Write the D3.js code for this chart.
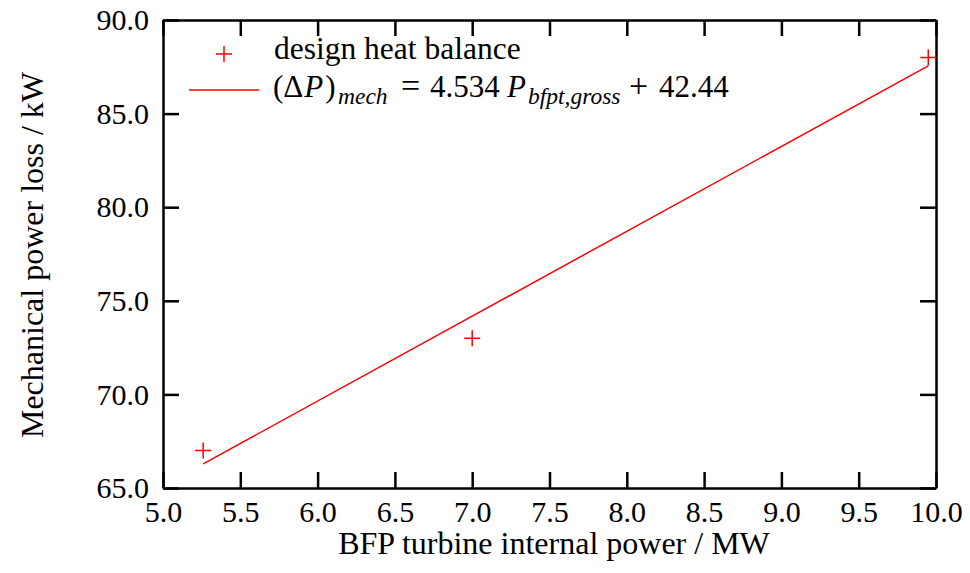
<!DOCTYPE html>
<html>
<head>
<meta charset="utf-8">
<script src="https://cdn.jsdelivr.net/npm/d3@7"></script>
<style>
  body { margin: 0; background: #fff; }
  .axis path, .axis line { fill: none; stroke: #000; stroke-width: 2.5; }
</style>
</head>
<body>
<svg id="chart"></svg>
<script>
// design heat balance points
const turbinePower = [5.26, 7.0, 9.95];
const mechLoss = [67.0, 73.0, 88.0];
// linear fit
const fitSlope = 4.534;
const fitIntercept = 42.44;
const xTicks = [5.0, 5.5, 6.0, 6.5, 7.0, 7.5, 8.0, 8.5, 9.0, 9.5, 10.0];
const yTicks = [65.0, 70.0, 75.0, 80.0, 85.0, 90.0];

const W = 970, H = 573;
const margin = {top: 20, right: 34, bottom: 85, left: 163};
const width = W - margin.left - margin.right,
      height = H - margin.top - margin.bottom;
const serif = 'Liberation Serif';

const svg = d3.select('#chart').attr('width', W).attr('height', H);
const g = svg.append('g').attr('transform', `translate(${margin.left},${margin.top})`);

const x = d3.scaleLinear().domain([5, 10]).range([0, width]);
const y = d3.scaleLinear().domain([65, 90]).range([height, 0]);

const tickLen = 16;
const fmt = d3.format('.1f');

function styleAxis(sel) {
  sel.attr('font-family', null).attr('font-size', null);
  sel.selectAll('text')
    .style('font-family', serif).style('font-size', '30px').style('fill', '#000');
}

// bottom
g.append('g').attr('class', 'axis').attr('transform', `translate(0,${height})`)
  .call(d3.axisBottom(x).tickValues(xTicks).tickFormat(fmt).tickSizeInner(-tickLen).tickSizeOuter(0).tickPadding(13))
  .call(styleAxis);
// top
g.append('g').attr('class', 'axis')
  .call(d3.axisTop(x).tickValues(xTicks).tickFormat('').tickSizeInner(-tickLen).tickSizeOuter(0));
// left
g.append('g').attr('class', 'axis')
  .call(d3.axisLeft(y).tickValues(yTicks).tickFormat(fmt).tickSizeInner(-tickLen).tickSizeOuter(0).tickPadding(14))
  .call(styleAxis);
// right
g.append('g').attr('class', 'axis').attr('transform', `translate(${width},0)`)
  .call(d3.axisRight(y).tickValues(yTicks).tickFormat('').tickSizeInner(-tickLen).tickSizeOuter(0));

// fit line
const xExt = d3.extent(turbinePower);
g.append('line')
  .attr('x1', x(xExt[0])).attr('y1', y(fitSlope * xExt[0] + fitIntercept))
  .attr('x2', x(xExt[1])).attr('y2', y(fitSlope * xExt[1] + fitIntercept))
  .attr('stroke', 'red').attr('stroke-width', 1.5);

// markers
const cross = 8;
const pts = g.selectAll('.pt').data(turbinePower.map((d, i) => [d, mechLoss[i]]))
  .enter().append('g').attr('class', 'pt')
  .attr('transform', d => `translate(${x(d[0])},${y(d[1])})`);
pts.append('path').attr('d', `M${-cross},0H${cross}M0,${-cross}V${cross}`)
  .attr('stroke', 'red').attr('stroke-width', 1.5).attr('fill', 'none');

// legend
svg.append('path').attr('d', `M${224 - cross},54H${224 + cross}M224,${54 - cross}V${54 + cross}`)
  .attr('stroke', 'red').attr('stroke-width', 1.5);
svg.append('text').attr('x', 274).attr('y', 59)
  .style('font-family', serif).style('font-size', '31.5px').text('design heat balance');
svg.append('line').attr('x1', 189).attr('x2', 259).attr('y1', 90).attr('y2', 90)
  .attr('stroke', 'red').attr('stroke-width', 1.5);

// equation: math-style spacing
const eq = svg.append('text').attr('y', 97)
  .style('font-family', serif).style('font-size', '31px');
eq.append('tspan').attr('x', 273).text('(Δ');
eq.append('tspan').style('font-style', 'italic').attr('dx', 1).text('P');
eq.append('tspan').attr('dx', 2).text(')');
eq.append('tspan').attr('x', 338).attr('y', 104).style('font-style', 'italic').style('font-size', '23.5px').text('mech');
eq.append('tspan').attr('x', 401).attr('y', 97).style('font-size', '34px').text('=');
eq.append('tspan').attr('x', 430).text('4.534');
eq.append('tspan').attr('x', 507).style('font-style', 'italic').text('P');
eq.append('tspan').attr('x', 528).attr('y', 104).style('font-style', 'italic').style('font-size', '23.5px').text('bfpt,gross');
eq.append('tspan').attr('x', 629).attr('y', 97).style('font-size', '34px').text('+');
eq.append('tspan').attr('x', 659).text('42.44');

// axis titles
svg.append('text').attr('x', 554).attr('y', 554)
  .attr('text-anchor', 'middle').style('font-family', serif).style('font-size', '32px')
  .text('BFP turbine internal power / MW');
svg.append('text').attr('transform', `translate(43,255) rotate(-90)`)
  .attr('text-anchor', 'middle').style('font-family', serif).style('font-size', '32px')
  .text('Mechanical power loss / kW');
</script>
</body>
</html>
